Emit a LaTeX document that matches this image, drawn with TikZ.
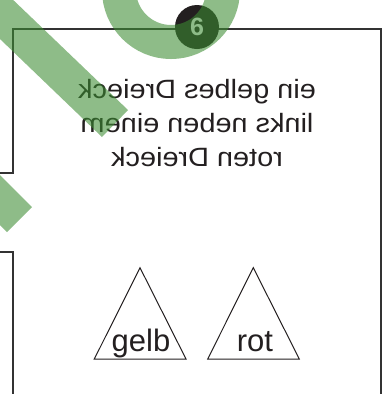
\documentclass[tikz,border=0pt]{standalone}
\usepackage{fontspec}
\setmainfont{Liberation Sans}
\usepackage{tikz}
\usetikzlibrary{positioning}
\definecolor{framegray}{HTML}{333333}
\definecolor{badgeblack}{HTML}{231F20}
\definecolor{markgreen}{RGB}{60,140,50}

\begin{document}
\begin{tikzpicture}[
  x=1pt,y=-1pt,
  frame/.style={draw=framegray,line width=1.3pt},
  tri/.style={draw=badgeblack,line width=1pt,line join=miter},
  lbl/.style={anchor=base,inner sep=0pt,font=\fontsize{31}{37}\selectfont,text=badgeblack},
  badge/.style={circle,fill=badgeblack,minimum size=44pt,inner sep=0pt,
    text=white,font=\fontsize{25}{30}\selectfont\bfseries},
  greenmark/.style={fill=markgreen,fill opacity=0.58,draw=none}
]
\useasboundingbox (0,0) rectangle (387,394);
\clip (0,0) rectangle (387,394);
% card outline
\draw[frame] (0,173) -- (13,173) -- (13,29) -- (381,29) -- (381,400);
\draw[frame] (0,252) -- (13,252) -- (13,400);
% number badge
\node[badge] (num) at (197,27) {6};
% mirrored condition text
\begin{scope}[shift={(197,125.3)},xscale=-1.09]
\node[transform shape,inner sep=0pt,text=badgeblack,
  font=\fontsize{26.5}{34}\selectfont] (cond)
  {\begin{tabular}{c}ein gelbes Dreieck\\links neben einem\\roten Dreieck\end{tabular}};
\end{scope}
% triangles
\coordinate (ytop) at (140,267.7);
\coordinate (rtop) at (253.3,267.7);
\draw[tri] (ytop) -- (186,359) -- (94.3,359) -- cycle;
\draw[tri] (rtop) -- (299.3,359) -- (207.7,359) -- cycle;
\node[lbl] (gelb) at (141,351.7) {gelb};
\node[lbl] (rot) at (255,351.7) {rot};
% green strokes on top
\path[greenmark] (-40,-51) -- (128,110) -- (102,137) -- (-40,0.6) -- cycle;
\path[greenmark] (-40,135) -- (32,207) -- (7,232) -- (-40,185) -- cycle;
\draw[draw=markgreen,draw opacity=0.58,line width=34pt] (171,-10) circle[radius=52pt];
\end{tikzpicture}
\end{document}
